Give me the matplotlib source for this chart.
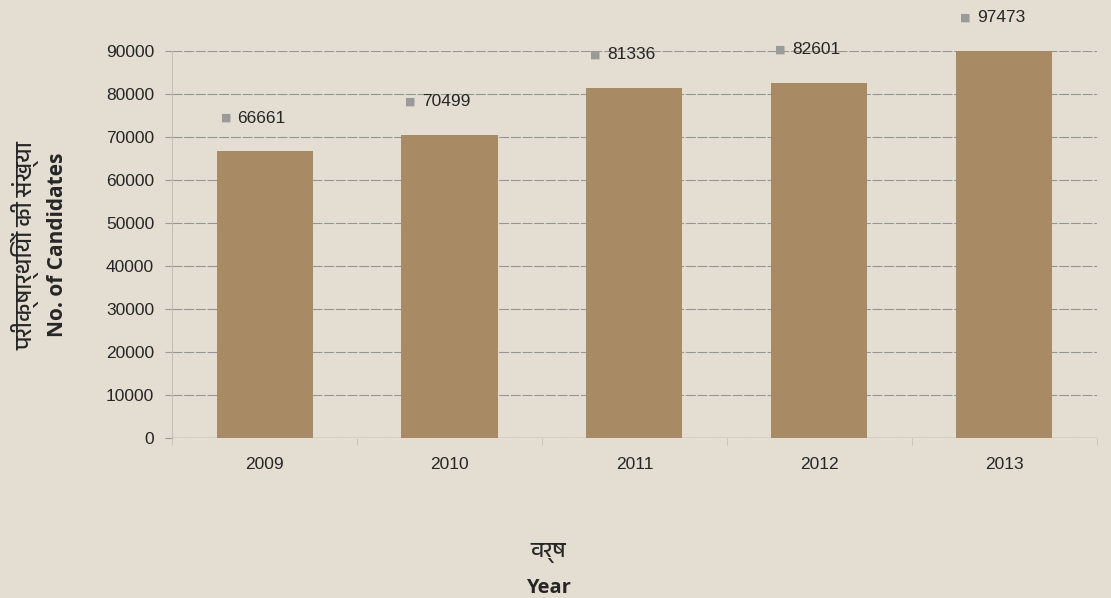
import matplotlib
matplotlib.use("Agg")
import matplotlib.pyplot as plt
from matplotlib import font_manager

years = ["2009", "2010", "2011", "2012", "2013"]
candidates = [66661, 70499, 81336, 82601, 97473]
yticks = [0, 10000, 20000, 30000, 40000, 50000, 60000, 70000, 80000, 90000]

ylabel_hi = "परीक्षार्थियों की संख्या"
ylabel_en = "No. of Candidates"
xlabel_hi = "वर्ष"
xlabel_en = "Year"

# look for any installed font that can draw Devanagari
deva = [f.name for f in font_manager.fontManager.ttflist if "Devanagari" in f.name]
hindi_family = deva[:1] + ["DejaVu Sans"]

bg = "#e4ddd2"
bar_color = "#a88b64"
text_color = "#262626"

fig = plt.figure(figsize=(11.11, 5.98), dpi=100, facecolor=bg)
ax = fig.add_axes([0.155, 0.2676, 0.832, 0.6471], facecolor=bg)

x = range(len(years))
ymax = 90000
shown = [min(v, ymax) for v in candidates]
ax.bar(x, shown, width=0.52, color=bar_color, zorder=3)

ax.set_xlim(-0.5, len(years) - 0.5)
ax.set_ylim(0, ymax)
ax.set_yticks(yticks)
ax.set_yticklabels([str(t) for t in yticks], fontsize=12.5,
                   fontfamily="Liberation Sans", color=text_color)
ax.set_xticks(list(x))
ax.set_xticklabels(years, fontsize=12.5, fontfamily="Liberation Sans", color=text_color)
ax.tick_params(axis="x", length=0, pad=14)
ax.tick_params(axis="y", length=5, color="#9a9a9a", pad=8)
ax.set_xticks([i + 0.5 for i in range(-1, len(years))], minor=True)
ax.tick_params(axis="x", which="minor", length=5, color="#c4c0b8")

ax.yaxis.grid(True, color="#959595", linewidth=0.8, linestyle=(0, (9, 1.5)), zorder=1)
for side in ["top", "right", "bottom"]:
    ax.spines[side].set_visible(False)
ax.spines["left"].set_color("#c4c0b8")
ax.axhline(0, color="#8c8c8c", linewidth=0.9, zorder=2)

for i, (v, s) in enumerate(zip(candidates, shown)):
    ax.annotate(str(v), (i, s), xytext=(-19.5, 24), textcoords="offset points",
                ha="left", va="center", fontsize=12.5, fontfamily="Liberation Sans",
                color=text_color, annotation_clip=False)
    ax.annotate("■", (i, s), xytext=(-28, 24), textcoords="offset points",
                ha="center", va="center", fontsize=8, color="#9a9a9a",
                annotation_clip=False)

fig.text(0.023, 0.59, ylabel_hi, rotation=90, ha="center", va="center",
         fontsize=16.5, fontweight="bold", family=hindi_family, color=text_color)
fig.text(0.052, 0.59, ylabel_en, rotation=90, ha="center", va="center",
         fontsize=15, fontweight="bold", family="Open Sans", color=text_color)
fig.text(0.4935, 0.075, xlabel_hi, ha="center", va="center",
         fontsize=16, fontweight="bold", family=hindi_family, color=text_color)
fig.text(0.4935, 0.017, xlabel_en, ha="center", va="center",
         fontsize=14.5, fontweight="bold", family="Open Sans", color=text_color)

fig.savefig("out.png", dpi=100, facecolor=bg)
